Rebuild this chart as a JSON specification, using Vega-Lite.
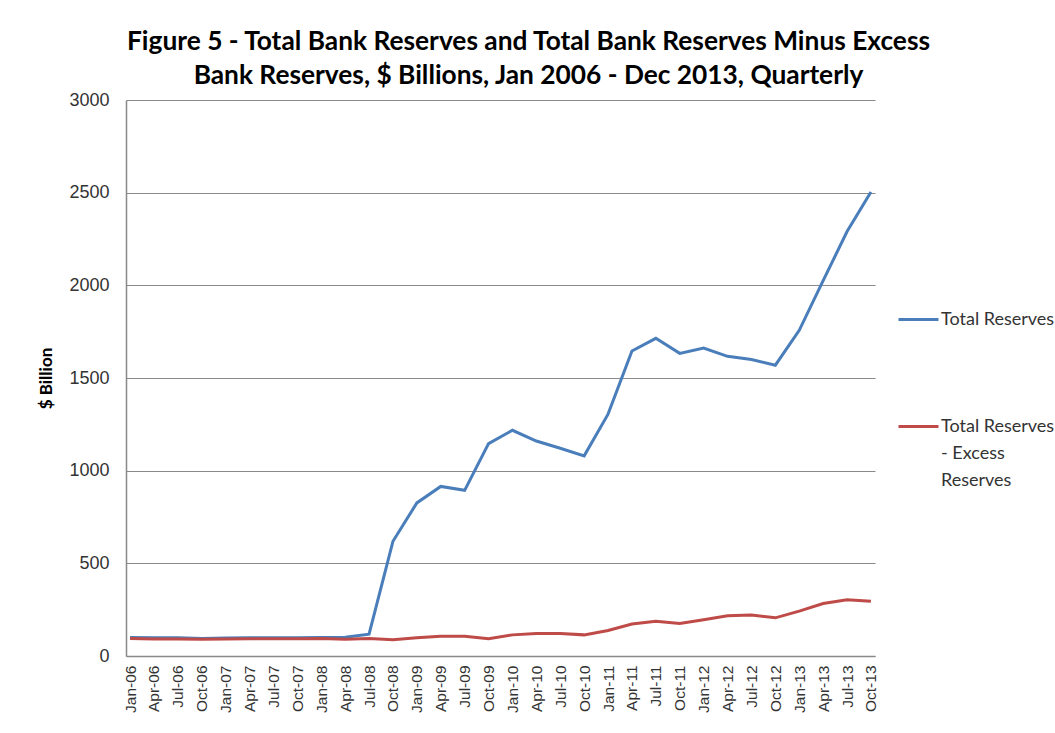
{
  "$schema": "https://vega.github.io/schema/vega-lite/v6.json",
  "width": 749,
  "height": 556,
  "autosize": {"type": "none"},
  "padding": {"left": 126, "top": 100, "right": 180, "bottom": 77},
  "background": "white",
  "title": {
    "text": ["Figure 5 - Total Bank Reserves and Total Bank Reserves Minus Excess", "Bank Reserves, $ Billions, Jan 2006 - Dec 2013, Quarterly"],
    "font": "Lato",
    "fontWeight": "bold",
    "fontSize": 26.3,
    "lineHeight": 34,
    "color": "#000000",
    "anchor": "middle",
    "dx": 28,
    "offset": 2
  },
  "data": {"values": [
    {"q": "Jan-06", "s": "Total Reserves", "v": 100},
    {"q": "Apr-06", "s": "Total Reserves", "v": 98},
    {"q": "Jul-06", "s": "Total Reserves", "v": 98},
    {"q": "Oct-06", "s": "Total Reserves", "v": 94},
    {"q": "Jan-07", "s": "Total Reserves", "v": 97},
    {"q": "Apr-07", "s": "Total Reserves", "v": 99},
    {"q": "Jul-07", "s": "Total Reserves", "v": 99},
    {"q": "Oct-07", "s": "Total Reserves", "v": 98},
    {"q": "Jan-08", "s": "Total Reserves", "v": 100},
    {"q": "Apr-08", "s": "Total Reserves", "v": 101},
    {"q": "Jul-08", "s": "Total Reserves", "v": 118},
    {"q": "Oct-08", "s": "Total Reserves", "v": 619},
    {"q": "Jan-09", "s": "Total Reserves", "v": 826},
    {"q": "Apr-09", "s": "Total Reserves", "v": 915},
    {"q": "Jul-09", "s": "Total Reserves", "v": 894},
    {"q": "Oct-09", "s": "Total Reserves", "v": 1146},
    {"q": "Jan-10", "s": "Total Reserves", "v": 1218},
    {"q": "Apr-10", "s": "Total Reserves", "v": 1160},
    {"q": "Jul-10", "s": "Total Reserves", "v": 1121},
    {"q": "Oct-10", "s": "Total Reserves", "v": 1080},
    {"q": "Jan-11", "s": "Total Reserves", "v": 1305},
    {"q": "Apr-11", "s": "Total Reserves", "v": 1646},
    {"q": "Jul-11", "s": "Total Reserves", "v": 1714},
    {"q": "Oct-11", "s": "Total Reserves", "v": 1633},
    {"q": "Jan-12", "s": "Total Reserves", "v": 1662},
    {"q": "Apr-12", "s": "Total Reserves", "v": 1617},
    {"q": "Jul-12", "s": "Total Reserves", "v": 1600},
    {"q": "Oct-12", "s": "Total Reserves", "v": 1569},
    {"q": "Jan-13", "s": "Total Reserves", "v": 1757},
    {"q": "Apr-13", "s": "Total Reserves", "v": 2025},
    {"q": "Jul-13", "s": "Total Reserves", "v": 2290},
    {"q": "Oct-13", "s": "Total Reserves", "v": 2504},
    {"q": "Jan-06", "s": "Total Reserves - Excess Reserves", "v": 95},
    {"q": "Apr-06", "s": "Total Reserves - Excess Reserves", "v": 92},
    {"q": "Jul-06", "s": "Total Reserves - Excess Reserves", "v": 92},
    {"q": "Oct-06", "s": "Total Reserves - Excess Reserves", "v": 90},
    {"q": "Jan-07", "s": "Total Reserves - Excess Reserves", "v": 92},
    {"q": "Apr-07", "s": "Total Reserves - Excess Reserves", "v": 93},
    {"q": "Jul-07", "s": "Total Reserves - Excess Reserves", "v": 93},
    {"q": "Oct-07", "s": "Total Reserves - Excess Reserves", "v": 93},
    {"q": "Jan-08", "s": "Total Reserves - Excess Reserves", "v": 95},
    {"q": "Apr-08", "s": "Total Reserves - Excess Reserves", "v": 90},
    {"q": "Jul-08", "s": "Total Reserves - Excess Reserves", "v": 95},
    {"q": "Oct-08", "s": "Total Reserves - Excess Reserves", "v": 88},
    {"q": "Jan-09", "s": "Total Reserves - Excess Reserves", "v": 99},
    {"q": "Apr-09", "s": "Total Reserves - Excess Reserves", "v": 107},
    {"q": "Jul-09", "s": "Total Reserves - Excess Reserves", "v": 107},
    {"q": "Oct-09", "s": "Total Reserves - Excess Reserves", "v": 93},
    {"q": "Jan-10", "s": "Total Reserves - Excess Reserves", "v": 114},
    {"q": "Apr-10", "s": "Total Reserves - Excess Reserves", "v": 122},
    {"q": "Jul-10", "s": "Total Reserves - Excess Reserves", "v": 122},
    {"q": "Oct-10", "s": "Total Reserves - Excess Reserves", "v": 114},
    {"q": "Jan-11", "s": "Total Reserves - Excess Reserves", "v": 138},
    {"q": "Apr-11", "s": "Total Reserves - Excess Reserves", "v": 173},
    {"q": "Jul-11", "s": "Total Reserves - Excess Reserves", "v": 188},
    {"q": "Oct-11", "s": "Total Reserves - Excess Reserves", "v": 175},
    {"q": "Jan-12", "s": "Total Reserves - Excess Reserves", "v": 196},
    {"q": "Apr-12", "s": "Total Reserves - Excess Reserves", "v": 217},
    {"q": "Jul-12", "s": "Total Reserves - Excess Reserves", "v": 221},
    {"q": "Oct-12", "s": "Total Reserves - Excess Reserves", "v": 206},
    {"q": "Jan-13", "s": "Total Reserves - Excess Reserves", "v": 242},
    {"q": "Apr-13", "s": "Total Reserves - Excess Reserves", "v": 283},
    {"q": "Jul-13", "s": "Total Reserves - Excess Reserves", "v": 304},
    {"q": "Oct-13", "s": "Total Reserves - Excess Reserves", "v": 295}
  ]},
  "mark": {"type": "line", "strokeWidth": 3},
  "encoding": {
    "x": {
      "field": "q",
      "type": "ordinal",
      "sort": null,
      "scale": {"type": "point", "padding": 0.17},
      "axis": {
        "title": null,
        "labelAngle": -90,
        "labelFont": "Liberation Sans",
        "labelFontSize": 15.5,
        "labelColor": "#333333",
        "labelPadding": 9,
        "ticks": false,
        "domainColor": "#898989",
        "domainWidth": 1.5,
        "grid": false
      }
    },
    "y": {
      "field": "v",
      "type": "quantitative",
      "scale": {"domain": [0, 3000], "nice": false},
      "axis": {
        "title": "$ Billion",
        "format": "d",
        "titleFont": "Lato",
        "titleFontWeight": "bold",
        "titleFontSize": 17,
        "titleColor": "#000000",
        "titlePadding": 13,
        "values": [0, 500, 1000, 1500, 2000, 2500, 3000],
        "labelFont": "Liberation Sans",
        "labelFontSize": 18,
        "labelColor": "#333333",
        "labelPadding": 17,
        "ticks": false,
        "domainColor": "#898989",
        "domainWidth": 1.5,
        "gridColor": "#8a8a8a",
        "gridWidth": 1
      }
    },
    "color": {
      "field": "s",
      "type": "nominal",
      "sort": ["Total Reserves", "Total Reserves - Excess Reserves"],
      "scale": {"range": ["#4A7EBB", "#BE4B48"]},
      "legend": {
        "title": null,
        "orient": "none",
        "legendX": 771,
        "legendY": 198,
        "symbolType": "stroke",
        "symbolSize": 1600,
        "symbolStrokeWidth": 3,
        "labelFont": "Lato",
        "labelFontSize": 18,
        "labelColor": "#333333",
        "labelOffset": 1,
        "labelLimit": 300,
        "rowPadding": 76,
        "labelExpr": "datum.label == 'Total Reserves - Excess Reserves' ? ['Total Reserves', '- Excess', 'Reserves'] : datum.label",
        "encode": {"labels": {"update": {"lineHeight": {"value": 27}}}}
      }
    }
  },
  "config": {"view": {"stroke": null}}
}
